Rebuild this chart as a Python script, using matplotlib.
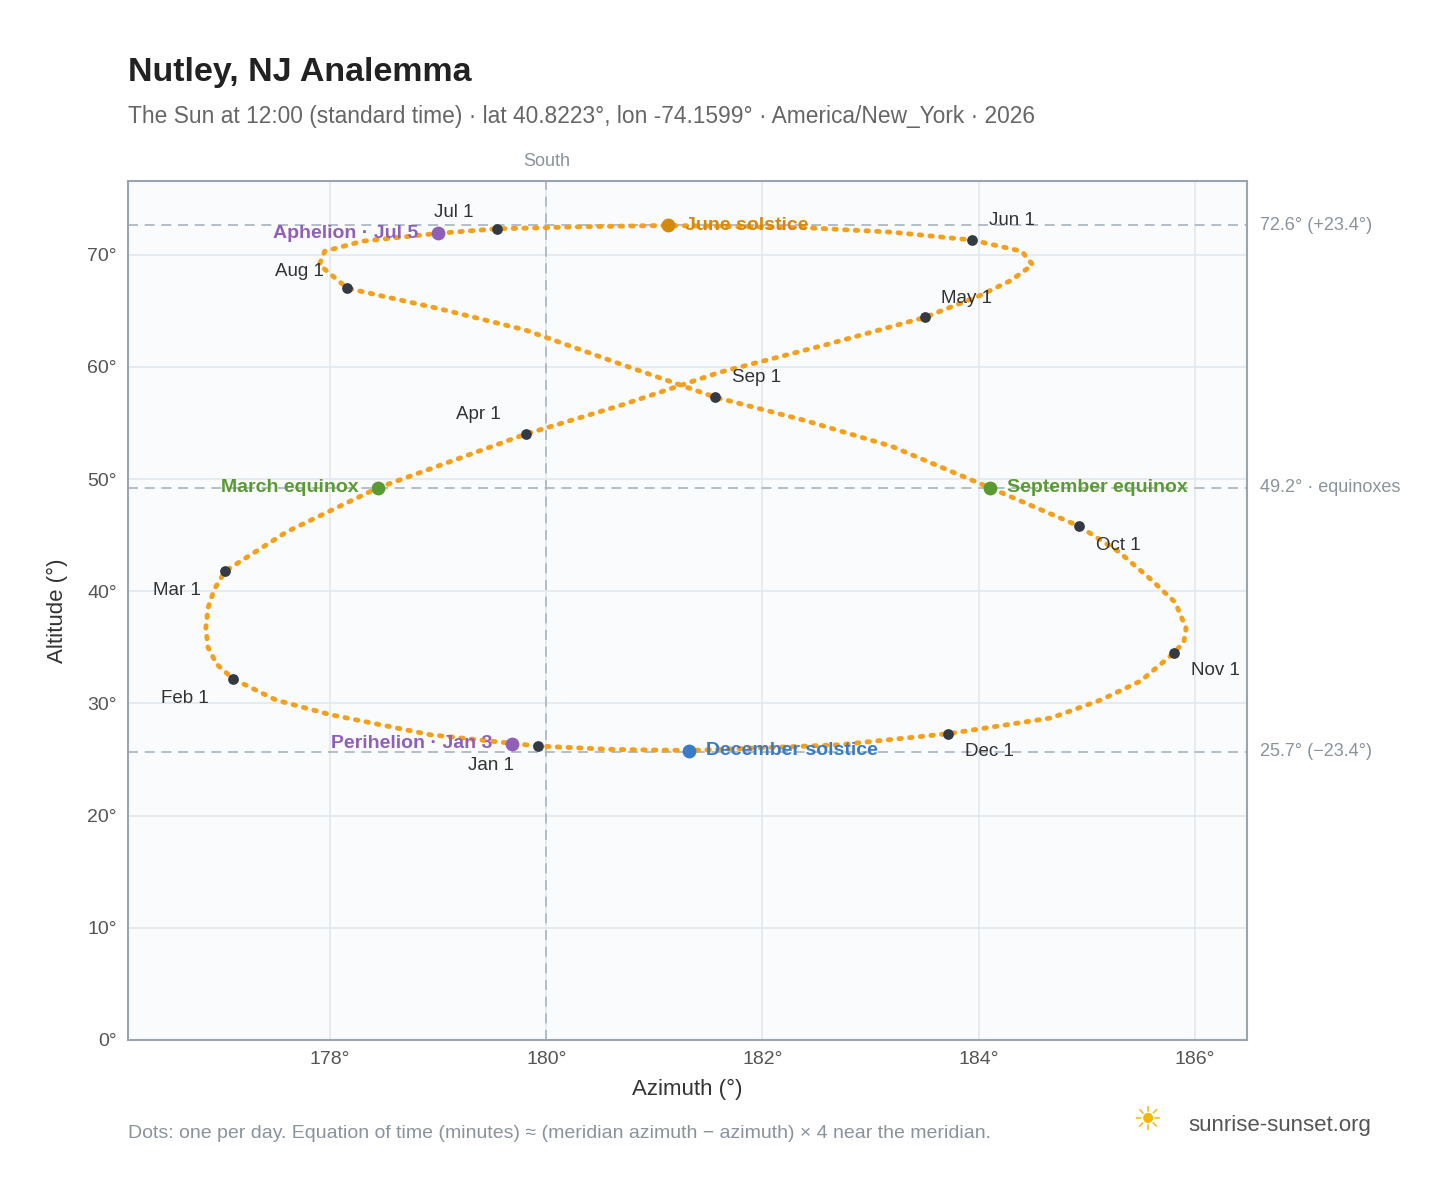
import matplotlib
matplotlib.use("Agg")
import matplotlib.pyplot as plt
plt.rcParams['font.family'] = ['Liberation Sans', 'DejaVu Sans']

# Path points, ordered through the year
path_az = [179.92,178.93,178.0,177.5,177.10,176.95,176.87,176.85,176.87,176.93,177.03,177.6,178.44,179.81,180.7,181.6,182.6,183.50,184.0,184.3,184.5,184.4,183.94,183.2,182.4,181.13,180.4,179.54,179.0,178.8,178.3,177.95,177.9,178.16,179.0,179.8,180.7,181.56,182.4,183.2,184.11,184.93,185.3,185.6,185.82,185.92,185.9,185.81,185.5,185.13,184.67,183.72,182.7,181.32,180.6,179.92]
path_alt = [26.2,27.2,29.0,30.3,32.2,33.5,35.0,36.7,38.5,40.2,41.8,45.3,49.2,54.0,56.6,59.5,62.0,64.4,66.3,67.7,69.1,70.3,71.3,72.0,72.4,72.6,72.5,72.3,71.9,71.7,71.2,70.3,69.1,67.0,65.2,63.3,60.2,57.3,55.2,52.9,49.2,45.8,43.5,41.0,39.0,36.7,35.5,34.5,32.0,30.3,28.7,27.3,26.3,25.8,25.9,26.2]

month_labels = ["Jan 1","Feb 1","Mar 1","Apr 1","May 1","Jun 1","Jul 1","Aug 1","Sep 1","Oct 1","Nov 1","Dec 1"]
month_az = [179.92,177.10,177.03,179.81,183.50,183.94,179.54,178.16,181.56,184.93,185.81,183.72]
month_alt = [26.2,32.2,41.8,54.0,64.4,71.3,72.3,67.0,57.3,45.8,34.5,27.3]
month_off = [(-50,-14),(-52,-14),(-52,-14),(-50,14),(12,14),(12,14),(-45,12),(-52,12),(12,14),(12,-14),(12,-13),(12,-13)]

events = ["June solstice","December solstice","March equinox","September equinox","Aphelion · Jul 5","Perihelion · Jan 3"]
ev_az = [181.13,181.32,178.44,184.11,179.0,179.68]
ev_alt = [72.6,25.8,49.2,49.2,71.9,26.4]
ev_col = ["#d4890a","#3a7bc8","#5a9a32","#5a9a32","#9060b8","#9060b8"]
ev_side = ["r","r","l","r","l","l"]

ref_alt = [72.6,49.2,25.7]
ref_lab = ["72.6° (+23.4°)","49.2° · equinoxes","25.7° (−23.4°)"]

fig = plt.figure(figsize=(14.48,11.88),dpi=100)
ax = fig.add_axes([0.0884,0.1246,0.7725,0.7234])
ax.set_facecolor("#f9fbfd")
ax.set_xlim(176.13,186.48); ax.set_ylim(0,76.6)
ax.set_xticks([178,180,182,184,186]); ax.set_xticklabels([f"{t}°" for t in [178,180,182,184,186]])
ax.set_yticks(range(0,71,10)); ax.set_yticklabels([f"{t}°" for t in range(0,71,10)])
ax.grid(color="#e3e8ee",lw=1.2); ax.set_axisbelow(True)
for s in ax.spines.values(): s.set_color("#9aa5b1"); s.set_linewidth(1.5)
ax.tick_params(colors="#555",labelsize=14,length=0,pad=8)
for a,l in zip(ref_alt,ref_lab):
    ax.axhline(a,color="#a8b4c0",ls=(0,(6,4)),lw=1.2,clip_on=False)
    ax.annotate(l,(1,a),xycoords=("axes fraction","data"),xytext=(10,0),textcoords="offset points",va="center",fontsize=13,color="#8a939c")
ax.axvline(180,color="#a8b4c0",ls=(0,(6,4)),lw=1.2)
ax.text(180,77.5,"South",ha="center",va="bottom",fontsize=13,color="#8a939c")
ax.plot(path_az,path_alt,color="#f5a01a",ls=(0,(0.5,1.7)),lw=3.5,dash_capstyle="round",solid_joinstyle="round")
ax.scatter(month_az,month_alt,s=45,color="#333a44",zorder=4)
for l,x,y,o in zip(month_labels,month_az,month_alt,month_off):
    ax.annotate(l,(x,y),xytext=o,textcoords="offset points",fontsize=13.5,color="#333",va="center")
for e,x,y,c,sd in zip(events,ev_az,ev_alt,ev_col,ev_side):
    ax.scatter([x],[y],s=80,color=c,zorder=5)
    ax.annotate(e,(x,y),xytext=(12 if sd=="r" else -14,0),textcoords="offset points",ha="left" if sd=="r" else "right",va="center",fontsize=14,fontweight="bold",color=c,zorder=6)
ax.set_xlabel("Azimuth (°)",fontsize=16,color="#333",labelpad=8)
ax.set_ylabel("Altitude (°)",fontsize=16,color="#333",labelpad=14)
fig.text(0.0884,0.939,"Nutley, NJ Analemma",fontsize=24.5,fontweight="bold",color="#222",va="center")
fig.text(0.0884,0.902,"The Sun at 12:00 (standard time) · lat 40.8223°, lon -74.1599° · America/New_York · 2026",fontsize=16.4,color="#666",va="center")
fig.text(0.0884,0.046,"Dots: one per day. Equation of time (minutes) ≈ (meridian azimuth − azimuth) × 4 near the meridian.",fontsize=14,color="#8a939c",va="center")
fig.text(0.821,0.053,"sunrise-sunset.org",fontsize=16,color="#555",va="center")
fig.text(0.792,0.056,"☀",fontsize=24,color="#f2b705",ha="center",va="center",family="DejaVu Sans")
fig.savefig("out.png",dpi=100,facecolor="white")
